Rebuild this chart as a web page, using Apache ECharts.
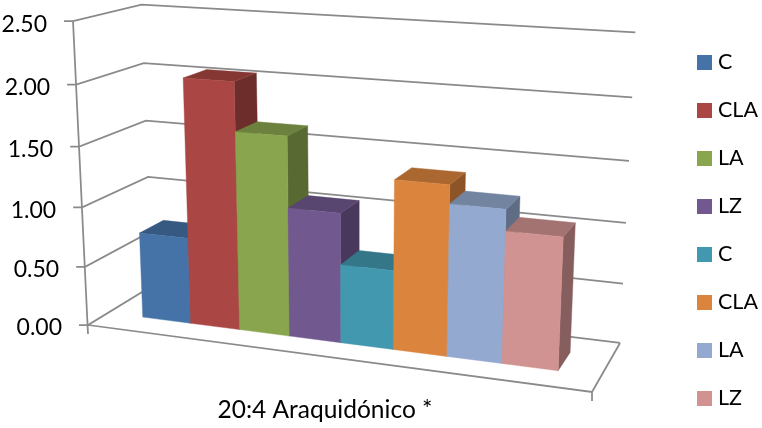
<!DOCTYPE html>
<html>
<head>
<meta charset="utf-8">
<style>html,body{margin:0;padding:0;background:#fff}#chart{width:762px;height:428px}</style>
<script src="https://cdn.jsdelivr.net/npm/echarts@6/dist/echarts.min.js"></script>
</head>
<body>
<div id="chart"></div>
<script>
// Fatty acid content per group, 20:4 arachidonic acid
const seriesNames = ['C', 'CLA', 'LA', 'LZ', 'C', 'CLA', 'LA', 'LZ'];
const seriesValues = [0.73, 2.05, 1.65, 1.07, 0.65, 1.38, 1.23, 1.06];
const seriesColors = ['#4572A7', '#AA4643', '#89A54E', '#71588F', '#4198AF', '#DB843D', '#93A9CF', '#D19392'];
const valueTicks = [0, 0.5, 1, 1.5, 2, 2.5];
const axisTitle = '20:4 Araquidónico *';

const FONT = 'Lato, "Open Sans", sans-serif';
const LINE = '#8a8a8a';

// Oblique view of the chart box: (u across, v into the page, h up) in 0..1 to screen pixels
const VIEW = {
  x: [440.6, 76.7, -18.88, 88],
  y: [25, -15.2, -305, 325],
  w: [-0.1071, 0.0833, -0.0532, 1]
};
function project(u, v, h) {
  const dot = r => r[0] * u + r[1] * v + r[2] * h + r[3];
  const w = dot(VIEW.w);
  return [dot(VIEW.x) / w, dot(VIEW.y) / w];
}

// Bars occupy this range of the box width, and this range of its depth
const U_START = 0.0775, U_END = 0.9215, V_FRONT = 0.30, V_BACK = 0.68;
const SLOTS = seriesValues.length, MAX_VALUE = 2.5;

// Read a data point through the hidden axes and express it as box fractions
function boxCoord(api, slot, value) {
  const p = api.coord([slot, value]);
  const o = api.coord([0, 0]);
  const e = api.coord([SLOTS, MAX_VALUE]);
  return [(p[0] - o[0]) / (e[0] - o[0]), (p[1] - o[1]) / (e[1] - o[1])];
}

function shade(hex, f) {
  const n = parseInt(hex.slice(1), 16);
  const c = s => Math.round(((n >> s) & 255) * f);
  return 'rgb(' + c(16) + ',' + c(8) + ',' + c(0) + ')';
}

function polyline(points, width) {
  return {
    type: 'polyline', shape: { points: points },
    style: { stroke: LINE, lineWidth: width || 1.75, fill: null }
  };
}

function renderFrame(params, api) {
  const tick = api.value(1);
  const h = boxCoord(api, 0, tick)[1];
  const front = project(0, 0, h);
  const children = [
    polyline([[front[0] - 9, front[1]], front, project(0, 1, h), project(1, 1, h)]),
    {
      type: 'text',
      style: {
        text: tick.toFixed(2), x: front[0] - 26, y: front[1] + 3,
        align: 'right', verticalAlign: 'middle',
        font: '23px ' + FONT, fill: '#000'
      }
    }
  ];
  if (params.dataIndex === 0) {
    const fl = project(0, 0, 0), fr = project(1, 0, 0);
    children.push(polyline([project(0, 0, 1), [fl[0], fl[1] + 9]]));
    children.push(polyline([fl, fr, project(1, 1, 0)]));
    children.push(polyline([fr, [fr[0], fr[1] + 9]]));
  }
  return { type: 'group', children: children };
}

function renderBar(params, api) {
  const slot = api.value(0);
  const base = api.style().fill;
  const a = boxCoord(api, slot, api.value(1));
  const b = boxCoord(api, slot + 1, 0);
  const span = U_END - U_START;
  const u0 = U_START + span * a[0], u1 = U_START + span * b[0], h = a[1];
  const quad = (pts, fill) => ({
    type: 'polygon', shape: { points: pts },
    style: { fill: fill, stroke: fill, lineWidth: 0.4 }
  });
  return {
    type: 'group',
    children: [
      quad([project(u1, V_FRONT, 0), project(u1, V_BACK, 0), project(u1, V_BACK, h), project(u1, V_FRONT, h)], shade(base, 0.64)),
      quad([project(u0, V_FRONT, h), project(u1, V_FRONT, h), project(u1, V_BACK, h), project(u0, V_BACK, h)], shade(base, 0.78)),
      quad([project(u0, V_FRONT, 0), project(u1, V_FRONT, 0), project(u1, V_FRONT, h), project(u0, V_FRONT, h)], base)
    ]
  };
}

const frameSeries = {
  type: 'custom', name: 'frame', silent: true,
  renderItem: renderFrame,
  encode: { x: 0, y: 1 },
  data: valueTicks.map(t => [0, t])
};
const barSeries = seriesNames.map((name, i) => ({
  type: 'custom', name: name,
  renderItem: renderBar,
  itemStyle: { color: seriesColors[i] },
  encode: { x: 0, y: 1 },
  data: [[i, seriesValues[i]]]
}));

function legendColumn(top, from, to) {
  return {
    orient: 'vertical', left: 692, top: top,
    icon: 'rect', itemWidth: 15, itemHeight: 15, itemGap: 25,
    selectedMode: false,
    textStyle: { fontFamily: FONT, fontSize: 21.5, color: '#000', padding: [0, 0, 0, 1], lineHeight: 23 },
    data: seriesNames.slice(from, to).map((name, k) => ({
      name: name, itemStyle: { color: seriesColors[from + k] }
    }))
  };
}

const chart = echarts.init(document.getElementById('chart'), null, { renderer: 'canvas' });
chart.setOption({
  animation: false,
  backgroundColor: '#fff',
  grid: { left: 88, right: 200, top: 22, bottom: 103 },
  xAxis: {
    type: 'value', min: 0, max: SLOTS,
    splitLine: { show: false }, axisLine: { show: false },
    axisTick: { show: false }, axisLabel: { show: false },
    name: axisTitle, nameLocation: 'middle', nameGap: 94,
    nameTextStyle: { fontFamily: FONT, fontSize: 24.5, color: '#000' }
  },
  yAxis: { type: 'value', min: 0, max: MAX_VALUE, interval: 0.5, show: false },
  legend: [legendColumn(46, 0, 4), legendColumn(238, 4, 8)],
  series: [frameSeries].concat(barSeries)
});
</script>
</body>
</html>
